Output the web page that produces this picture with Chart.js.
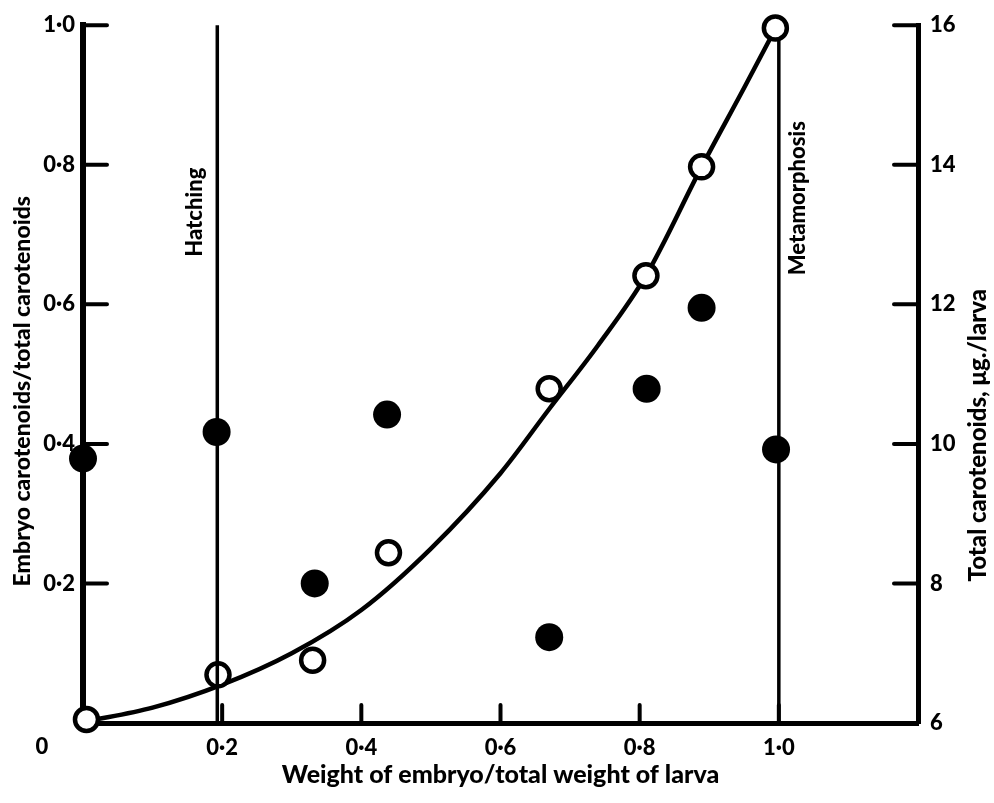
<!DOCTYPE html>
<html>
<head>
<meta charset="utf-8">
<script src="https://cdn.jsdelivr.net/npm/chart.js@4.4.1/dist/chart.umd.min.js"></script>
<style>
html,body{margin:0;padding:0;background:#fff;}
#wrap{width:994px;height:803px;}
</style>
</head>
<body>
<div id="wrap"><canvas id="c" width="994" height="803"></canvas></div>
<script>
// ---- data ----
const xTicks = [0, 0.2, 0.4, 0.6, 0.8, 1.0];
const leftTicks = [0, 0.2, 0.4, 0.6, 0.8, 1.0];
const rightTicks = [6, 8, 10, 12, 14, 16];

// filled circles: embryo carotenoids / total carotenoids (left axis)
const embryoX = [0.0, 0.192, 0.333, 0.437, 0.670, 0.810, 0.889, 0.996];
const embryoRatio = [0.379, 0.417, 0.200, 0.442, 0.123, 0.479, 0.595, 0.392];

// open circles: total carotenoids, µg/larva (right axis)
const totalX = [0.005, 0.194, 0.330, 0.439, 0.670, 0.809, 0.889, 0.995];
const totalCarot = [6.05, 6.69, 6.90, 8.44, 10.79, 12.41, 13.97, 15.96];

// fitted curve through total carotenoids (right axis)
const curveX = [0.003, 0.10, 0.20, 0.30, 0.40, 0.50, 0.60, 0.67, 0.74, 0.809, 0.889, 0.95, 0.995];
const curveY = [6.02, 6.22, 6.55, 7.00, 7.62, 8.50, 9.58, 10.50, 11.41, 12.41, 13.97, 15.10, 15.95];

// event markers
const hatchingX = 0.193;
const metamorphosisX = 1.0;

const xTitle = 'Weight of embryo/total weight of larva';
const leftTitle = 'Embryo carotenoids/total carotenoids';
const rightTitle = 'Total carotenoids, \u03BCg./larva';

// ---- helpers ----
const FAM = 'Lato, "DejaVu Sans", sans-serif';
const W = '900';
const fmt = v => (Math.round(v * 10) / 10).toFixed(1).replace('.', '\u00B7');
const pts = (xs, ys) => xs.map((v, i) => ({x: v, y: ys[i]}));

function drawRot(ctx, text, cx, cy) {
  ctx.save();
  ctx.translate(cx, cy);
  ctx.rotate(-Math.PI / 2);
  ctx.textAlign = 'center';
  ctx.textBaseline = 'middle';
  ctx.fillText(text, 0, 0);
  ctx.restore();
}

const extras = {
  id: 'extras',
  afterDatasetsDraw(chart) {
    const {ctx, chartArea: a, scales} = chart;
    const x = scales.x, y = scales.y, y2 = scales.y2;
    ctx.save();
    ctx.strokeStyle = '#000';
    ctx.lineCap = 'round';
    ctx.lineWidth = 4;
    ctx.beginPath();
    xTicks.filter(v => v > 0).forEach(v => {
      const p = x.getPixelForValue(v);
      ctx.moveTo(p, a.bottom); ctx.lineTo(p, a.bottom - 18);
    });
    leftTicks.filter(v => v > 0).forEach(v => {
      const p = y.getPixelForValue(v);
      ctx.moveTo(a.left, p); ctx.lineTo(a.left + 24, p);
    });
    rightTicks.filter(v => v > 6).forEach(v => {
      const p = y2.getPixelForValue(v);
      ctx.moveTo(a.right, p); ctx.lineTo(a.right - 24, p);
    });
    ctx.stroke();

    ctx.fillStyle = '#000';
    ctx.font = W + ' 22px ' + FAM;
    ctx.textAlign = 'center';
    ctx.textBaseline = 'middle';
    ctx.fillText('0', x.getPixelForValue(0) - 41, a.bottom + 24);

    ctx.font = W + ' 22px ' + FAM;
    drawRot(ctx, 'Hatching', x.getPixelForValue(hatchingX) - 22, a.top + 187);
    drawRot(ctx, 'Metamorphosis', x.getPixelForValue(metamorphosisX) + 19, a.top + 173);

    ctx.font = W + ' 23px ' + FAM;
    drawRot(ctx, leftTitle, a.left - 60, a.top + 366);
    ctx.font = W + ' 24px ' + FAM;
    drawRot(ctx, rightTitle, a.right + 60, a.top + 410);
    ctx.restore();
  }
};

new Chart(document.getElementById('c'), {
  type: 'scatter',
  data: {
    datasets: [
      {
        label: 'curve', data: pts(curveX, curveY), yAxisID: 'y2', showLine: true,
        borderColor: '#000', borderWidth: 4.5, pointRadius: 0, fill: false,
        cubicInterpolationMode: 'monotone', order: 5, clip: false
      },
      {
        label: 'Metamorphosis', data: pts([metamorphosisX, metamorphosisX], [0, 1]), yAxisID: 'y', showLine: true,
        borderColor: '#000', borderWidth: 3.5, pointRadius: 0, order: 4, clip: false
      },
      {
        label: 'Total carotenoids', data: pts(totalX, totalCarot), yAxisID: 'y2',
        pointRadius: 11.5, pointBorderWidth: 4.5, borderWidth: 4.5, borderColor: '#000',
        backgroundColor: '#fff', pointBackgroundColor: '#fff', order: 3, clip: false
      },
      {
        label: 'Hatching', data: pts([hatchingX, hatchingX], [0, 1]), yAxisID: 'y', showLine: true,
        borderColor: '#000', borderWidth: 3.5, pointRadius: 0, order: 2, clip: false
      },
      {
        label: 'Embryo ratio', data: pts(embryoX, embryoRatio), yAxisID: 'y',
        pointRadius: 14, borderWidth: 0, backgroundColor: '#000', pointBackgroundColor: '#000',
        order: 1, clip: false
      }
    ]
  },
  options: {
    responsive: false,
    animation: false,
    devicePixelRatio: 1,
    layout: {padding: {top: 22, left: 0, right: 0, bottom: 0}},
    plugins: {legend: {display: false}, tooltip: {enabled: false}},
    scales: {
      x: {
        type: 'linear', position: 'bottom', min: 0, max: 1.2,
        afterBuildTicks: s => { s.ticks = xTicks.map(v => ({value: v})); },
        afterFit: s => { s.height = 80; },
        grid: {display: false, drawTicks: false},
        border: {display: true, width: 5, color: '#000'},
        ticks: {
          callback: v => (v === 0 ? '' : fmt(v)), color: '#000', padding: 12,
          font: {family: FAM, weight: W, size: 22}, maxRotation: 0, autoSkip: false
        },
        title: {
          display: true, text: xTitle, color: '#000',
          font: {family: FAM, weight: W, size: 25}, padding: {top: 0, bottom: 13}
        }
      },
      y: {
        type: 'linear', position: 'left', min: 0, max: 1.0,
        afterBuildTicks: s => { s.ticks = leftTicks.map(v => ({value: v})); },
        afterFit: s => { s.width = 83; },
        grid: {display: false, drawTicks: false},
        border: {display: true, width: 6, color: '#000'},
        ticks: {
          callback: v => (v === 0 ? '' : fmt(v)), color: '#000', padding: 8,
          font: {family: FAM, weight: W, size: 22}, autoSkip: false
        }
      },
      y2: {
        type: 'linear', position: 'right', min: 6, max: 16,
        afterBuildTicks: s => { s.ticks = rightTicks.map(v => ({value: v})); },
        afterFit: s => { s.width = 76; },
        grid: {display: false, drawTicks: false},
        border: {display: true, width: 5, color: '#000'},
        ticks: {
          callback: v => String(v), color: '#000', padding: 12,
          font: {family: FAM, weight: W, size: 22}, autoSkip: false
        }
      }
    }
  },
  plugins: [extras]
});
</script>
</body>
</html>
